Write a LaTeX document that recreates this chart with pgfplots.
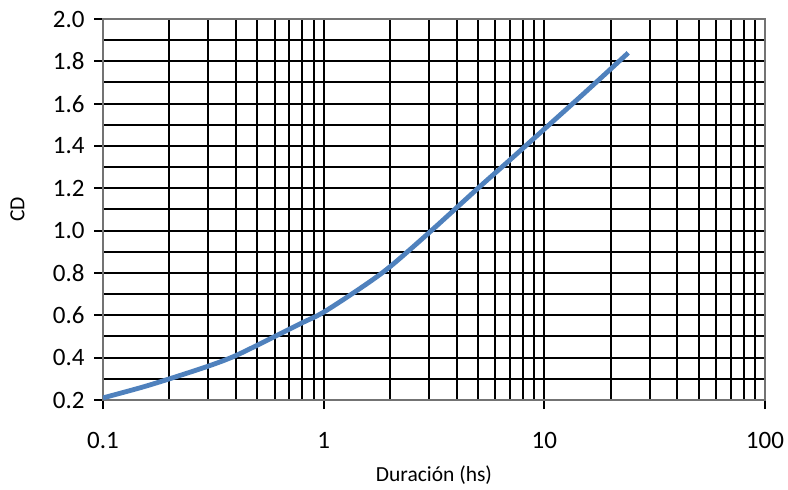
\documentclass[border=0pt]{standalone}
\usepackage{fontspec}
\setmainfont{Carlito}
\usepackage{pgfplots}
\pgfplotsset{compat=1.18}
\usetikzlibrary{calc}
\definecolor{curveblue}{RGB}{79,129,189}

\begin{document}
\begin{tikzpicture}
  \begin{axis}[
    name=ax,
    scale only axis,
    width=662pt, height=381pt,
    xmode=log,
    xmin=0.1, xmax=100,
    ymin=0.2, ymax=2.0,
    xtick={0.1,1,10,100},
    xticklabels={0.1,1,10,100},
    ytick={0.2,0.4,...,2.01},
    minor ytick={0.3,0.5,...,1.91},
    y tick label style={/pgf/number format/fixed, /pgf/number format/fixed zerofill, /pgf/number format/precision=1},
    /pgf/number format/assume math mode=true,
    ticklabel style={font=\fontsize{25}{30}\selectfont},
    label style={font=\fontsize{21.5}{26}\selectfont},
    xlabel={Duración (hs)},
    ylabel={CD},
    xlabel style={at={(0.5,0)}, anchor=north, yshift=-62pt},
    ylabel style={at={(0,0.5)}, anchor=south, yshift=75pt},
    tick pos=left,
    tick align=outside,
    major tick length=9pt,
    minor tick length=0pt,
    major tick style={black, line width=1.8pt},
    grid=both,
    major grid style={black, line width=2pt},
    minor grid style={black, line width=2pt},
    axis line style={black!55, line width=1.4pt},
    xticklabel shift=20pt,
    yticklabel shift=6pt,
  ]
    \addplot[curveblue, line width=4.8pt, smooth] coordinates {
      (0.1, 0.21)
      (0.15, 0.26)
      (0.2, 0.30)
      (0.3, 0.36)
      (0.4, 0.41)
      (0.6, 0.50)
      (0.8, 0.565)
      (1, 0.615)
      (1.5, 0.735)
      (2, 0.83)
      (3, 0.99)
      (5, 1.20)
      (7, 1.335)
      (10, 1.48)
      (15, 1.645)
      (24, 1.84)
    };
  \end{axis}
  \pgfresetboundingbox
  \path ($(ax.south west)+(-103pt,-89pt)$) rectangle ($(ax.north east)+(23pt,19pt)$);
\end{tikzpicture}
\end{document}
